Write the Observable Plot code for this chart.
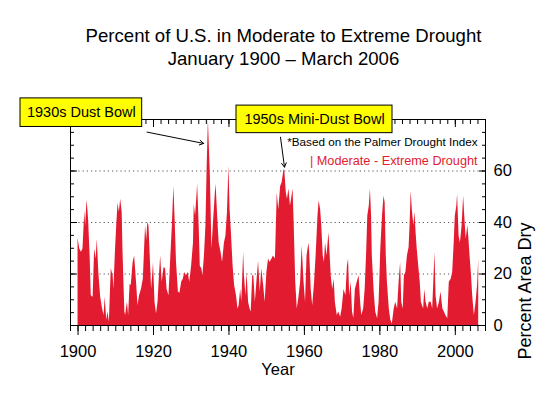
<!DOCTYPE html>
<html>
<head>
<meta charset="utf-8">
<script src="https://cdn.jsdelivr.net/npm/d3@7"></script>
<script src="https://cdn.jsdelivr.net/npm/@observablehq/plot@0.6"></script>
<style>
  html, body { margin: 0; padding: 0; background: #fff; }
  #chart svg { display: block; }
</style>
</head>
<body>
<div id="chart"></div>
<script>
// ---- Data: [decimal year, percent of U.S. area in moderate-extreme drought] ----
const era1900 = [
  [1900.0, 34], [1900.45, 29.7], [1900.9, 28.4], [1901.3, 29.7], [1901.8, 44.5], [1902.0, 38.5],
  [1902.4, 48.7], [1902.8, 41], [1903.2, 27], [1903.5, 11.6], [1904.0, 11], [1904.4, 29.7],
  [1904.8, 25.8], [1905.1, 33.5], [1905.5, 20.6], [1906.0, 11], [1906.5, 6.4], [1906.9, 3.9],
  [1907.2, 11], [1907.6, 2], [1907.95, 5.2], [1908.3, 1.3], [1908.8, 22], [1909.3, 19.3],
  [1909.5, 14], [1909.9, 28.4], [1910.25, 38.7], [1910.6, 47.5], [1910.95, 44], [1911.3, 49],
  [1911.7, 44], [1911.9, 29.7], [1912.4, 5.2], [1912.6, 3.9], [1913.1, 9], [1913.4, 3.9],
  [1913.8, 16], [1914.1, 15.5], [1914.6, 24.5], [1915.0, 27], [1915.5, 16.8], [1915.9, 7.7],
  [1916.3, 11.6], [1916.8, 14]
];
const era1917 = [
  [1917.3, 18], [1917.9, 38.7], [1918.2, 33], [1918.5, 40], [1918.8, 38.7], [1919.2, 24.5],
  [1919.5, 14], [1919.8, 20], [1920.0, 24.5], [1920.4, 9], [1920.8, 4.5], [1921.2, 9],
  [1921.6, 20], [1921.9, 27], [1922.3, 16.8], [1922.8, 22.5], [1923.2, 22], [1923.6, 14],
  [1924.1, 11.6], [1924.6, 27], [1925.0, 38.7], [1925.4, 54], [1925.7, 42.5], [1926.1, 24.5],
  [1926.6, 13], [1927.0, 12.5], [1927.5, 17], [1927.9, 18], [1928.3, 20.6], [1928.7, 19.3],
  [1929.2, 20.6], [1929.6, 16.8], [1930.1, 23], [1930.6, 32], [1930.8, 47], [1931.15, 42.5],
  [1931.5, 50], [1931.7, 55], [1932.1, 38.7], [1932.4, 23], [1932.8, 22], [1933.1, 19.3],
  [1933.5, 27], [1933.9, 38.7], [1934.2, 60], [1934.55, 80]
];
const era1935 = [
  [1935.05, 59], [1935.5, 29.7], [1935.9, 40], [1936.4, 51.6], [1936.6, 54.8], [1937.0, 42.5],
  [1937.4, 32], [1937.9, 28.4], [1938.3, 24.5], [1938.8, 32], [1939.2, 34.8], [1939.6, 43.8],
  [1940.0, 62], [1940.3, 45], [1940.6, 37.4], [1941.1, 23], [1941.5, 15.5], [1942.0, 11.6],
  [1942.4, 6.4], [1942.7, 7.7], [1943.1, 14], [1943.4, 9], [1943.9, 28.4], [1944.1, 19.3],
  [1944.5, 11.6], [1944.8, 20.6], [1945.2, 9], [1945.6, 6.4], [1945.9, 5.2], [1946.3, 19.3],
  [1946.6, 19.3], [1947.0, 9], [1947.4, 16.8], [1947.85, 25], [1948.3, 13], [1948.7, 22],
  [1949.2, 15.5], [1949.6, 9], [1950.05, 20.6], [1950.5, 25.8], [1950.9, 24.5], [1951.4, 25.8],
  [1951.8, 27], [1952.3, 25.8]
];
const era1952 = [
  [1952.4, 29.7], [1952.8, 51.6], [1953.2, 45], [1953.7, 54], [1954.1, 55.4], [1954.6, 60.6],
  [1954.8, 60], [1955.2, 51.6], [1955.5, 49], [1955.9, 53], [1956.3, 46.4], [1956.6, 49],
  [1957.0, 53], [1957.3, 38.7], [1957.7, 16.8], [1958.1, 6.4], [1958.5, 10.3], [1959.0, 16.8],
  [1959.4, 31], [1959.9, 16.8], [1960.3, 9], [1960.7, 27], [1961.2, 32], [1961.4, 28.4],
  [1961.8, 14], [1962.2, 7.7], [1962.7, 16.8], [1963.1, 27], [1963.6, 42.5], [1963.9, 48.4],
  [1964.3, 45], [1964.6, 38.7], [1965.0, 27], [1965.3, 24.5], [1965.6, 32], [1966.0, 27],
  [1966.5, 36], [1966.7, 31], [1967.1, 19.3], [1967.5, 14], [1967.9, 18], [1968.2, 9],
  [1968.7, 3.9], [1969.1, 5.2], [1969.6, 3.2], [1970.0, 6.4]
];
const era1970 = [
  [1970.5, 14], [1971.0, 11.6], [1971.4, 23], [1971.7, 25.8], [1972.0, 11.6], [1972.4, 16.8],
  [1972.75, 5.2], [1973.1, 2.6], [1973.5, 14], [1974.0, 16.8], [1974.5, 19.3], [1974.9, 9],
  [1975.2, 3.9], [1975.7, 6.4], [1976.1, 14], [1976.5, 28.4], [1976.8, 42.5], [1977.2, 46.4],
  [1977.5, 53], [1977.8, 42.5], [1978.0, 27], [1978.5, 13], [1978.9, 5.2], [1979.4, 2.6],
  [1979.8, 9], [1980.25, 29.7], [1980.7, 42.5], [1981.1, 50.3], [1981.4, 47.7], [1981.7, 27],
  [1982.0, 16.8], [1982.5, 6.4], [1982.9, 2], [1983.3, 0.6], [1983.8, 6.4], [1984.2, 9],
  [1984.7, 6.4], [1985.1, 16.8], [1985.5, 24.5], [1985.8, 9], [1986.2, 6.4], [1986.5, 19.3],
  [1986.9, 20.6], [1987.3, 27], [1987.75, 30.3]
];
const era1988 = [
  [1988.0, 38.7], [1988.3, 52.2], [1988.6, 45], [1989.0, 38.7], [1989.3, 44], [1989.6, 36],
  [1989.9, 29.7], [1990.3, 23], [1990.7, 16.8], [1991.0, 9], [1991.6, 6.4], [1991.9, 14],
  [1992.25, 9], [1992.7, 6.4], [1993.1, 9], [1993.6, 9], [1994.0, 6.4], [1994.4, 20.6],
  [1994.6, 28.4], [1994.9, 11.6], [1995.3, 6.4], [1995.8, 9], [1996.2, 13], [1996.7, 6.4],
  [1997.1, 5.2], [1997.5, 3.9], [1998.0, 2.6], [1998.4, 16.8], [1998.9, 18], [1999.3, 20.6],
  [1999.7, 32], [2000.0, 42.5], [2000.4, 46.4], [2000.6, 51], [2001.0, 34.8], [2001.35, 32],
  [2001.8, 38.7], [2002.2, 50.3], [2002.6, 40], [2002.9, 33.5], [2003.3, 38.7], [2003.55, 34.8],
  [2003.9, 27], [2004.3, 19.3], [2004.6, 11.6], [2005.05, 3.9], [2005.5, 9], [2005.9, 15.5],
  [2006.2, 25.8]
];

// ---- Axis ticks and labels ----
const xTickLabels = [1900, 1920, 1940, 1960, 1980, 2000];
const yTickLabels = [0, 20, 40, 60];
const gridLevels = [20, 40, 60];
const xMinorTicks = d3.range(1898, 2009, 2);
const yMinorTicks = d3.range(0, 81, 5);
const yMajorTicks = [0, 20, 40, 60, 80];

// ---- Texts ----
const titleLines = ["Percent of U.S. in Moderate to Extreme Drought", "January 1900 \u2013 March 2006"];
const xLabel = "Year";
const yLabel = "Percent Area Dry";
const noteText = "*Based on the Palmer Drought Index";
const legendText = "| Moderate - Extreme Drought";
const dustBowlText = "1930s Dust Bowl";
const miniDustBowlText = "1950s Mini-Dust Bowl";

const RED = "#e31b30";

const data = [...era1900, ...era1917, ...era1935, ...era1952, ...era1970, ...era1988]
  .map(([year, pct]) => ({year, pct}));

// annotation placement (in data units of the chart scales)
const boxes = [
  {x1: 1884.75, x2: 1917.0, y1: 77.1, y2: 88.2, text: dustBowlText},
  {x1: 1942.0, x2: 1983.35, y1: 74.7, y2: 85.4, text: miniDustBowlText}
];
const arrows = [
  {x1: 1918.3, y1: 75.1, x2: 1933.3, y2: 70.7},
  {x1: 1953.66, y1: 73.1, x2: 1954.72, y2: 61.5}
];

const chart = Plot.plot({
  width: 552,
  height: 393,
  marginLeft: 70,
  marginRight: 67,
  marginTop: 119,
  marginBottom: 68,
  style: {fontFamily: "'Liberation Sans', Arial, Helvetica, sans-serif", background: "#fff", color: "#000"},
  x: {domain: [1898, 2008], axis: null},
  y: {domain: [0, 80], axis: null},
  marks: [
    Plot.ruleY(gridLevels, {stroke: "#555", strokeDasharray: "1.2,3"}),
    Plot.areaY(data, {x: "year", y: "pct", fill: RED}),
    Plot.frame({stroke: "#000"}),
    // bottom ticks (outward)
    Plot.axisX(xMinorTicks, {anchor: "bottom", tickSize: 6, fill: "none", label: null}),
    Plot.axisX(xTickLabels, {anchor: "bottom", tickSize: 10, fill: "none", label: null}),
    Plot.axisX(xTickLabels, {anchor: "bottom", tickSize: 0, tickPadding: 20, tickFormat: "d", fontSize: 16.5, label: null}),
    // top ticks (inward)
    Plot.axisX(xMinorTicks, {anchor: "top", tickSize: -4, fill: "none", label: null}),
    Plot.axisX(xTickLabels, {anchor: "top", tickSize: -7, fill: "none", label: null}),
    // left ticks (inward)
    Plot.axisY(yMinorTicks, {anchor: "left", tickSize: -4, fill: "none", label: null}),
    Plot.axisY(yMajorTicks, {anchor: "left", tickSize: -7, fill: "none", label: null}),
    // right ticks (inward) + labels
    Plot.axisY(yMinorTicks, {anchor: "right", tickSize: -4, fill: "none", label: null}),
    Plot.axisY(yMajorTicks, {anchor: "right", tickSize: -7, fill: "none", label: null}),
    Plot.axisY(yTickLabels, {anchor: "right", tickSize: 0, tickPadding: 8, fontSize: 16.5, label: null}),
    // titles
    Plot.text([titleLines[0]], {frameAnchor: "top", dx: 5.5, dy: -83.4, fontSize: 18.6, lineAnchor: "middle", fill: "#000"}),
    Plot.text([titleLines[1]], {frameAnchor: "top", dx: 5.5, dy: -60.1, fontSize: 18.6, lineAnchor: "middle", fill: "#000"}),
    // axis labels
    Plot.text([xLabel], {frameAnchor: "bottom", dy: 44.5, fontSize: 16.5, lineAnchor: "middle", fill: "#000"}),
    Plot.text([yLabel], {frameAnchor: "right", dx: 40, rotate: -90, fontSize: 18, lineAnchor: "middle", fill: "#000"}),
    // notes
    Plot.text([noteText], {x: 2005.9, y: 71.3, textAnchor: "end", fontSize: 11.7, lineAnchor: "middle", fill: "#000"}),
    Plot.text([legendText], {x: 2005.9, y: 64.1, textAnchor: "end", fontSize: 12.7, lineAnchor: "middle", fill: RED}),
    // annotations
    Plot.arrow(arrows, {x1: "x1", y1: "y1", x2: "x2", y2: "y2", stroke: "#000", strokeWidth: 1, headLength: 7}),
    Plot.rect(boxes, {x1: "x1", x2: "x2", y1: "y1", y2: "y2", fill: "#ffff00", stroke: "#000", strokeWidth: 1}),
    Plot.text(boxes, {x: d => (d.x1 + d.x2) / 2, y: d => (d.y1 + d.y2) / 2, text: "text", fontSize: 14.5, lineAnchor: "middle", fill: "#000"})
  ]
});
document.getElementById("chart").appendChild(chart);
</script>
</body>
</html>
